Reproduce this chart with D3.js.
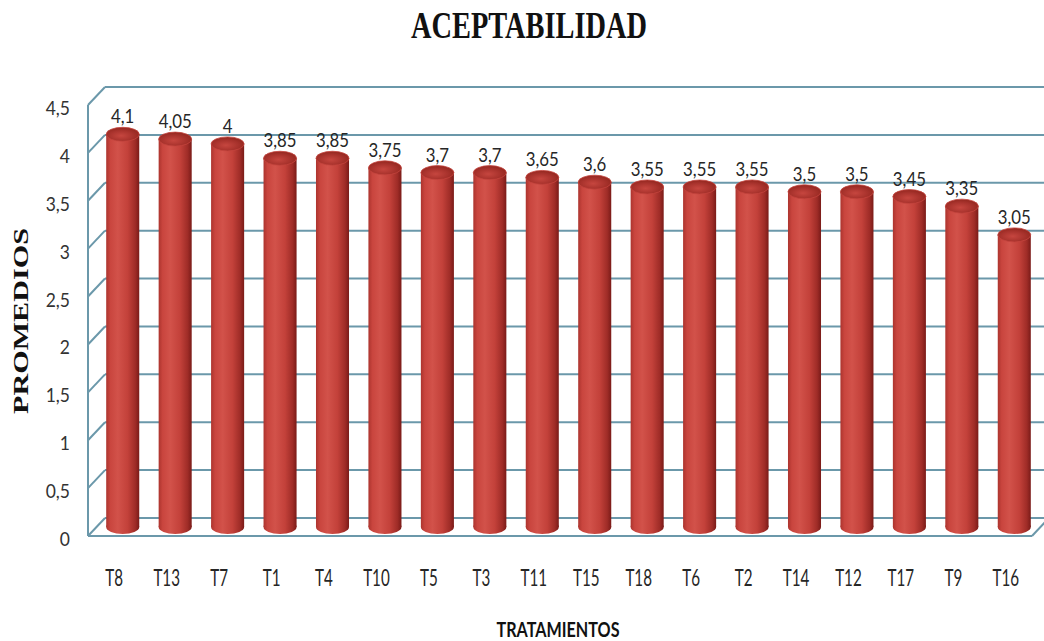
<!DOCTYPE html>
<html>
<head>
<meta charset="utf-8">
<script src="https://cdn.jsdelivr.net/npm/d3@7"></script>
<style>
  html, body { margin: 0; padding: 0; background: #ffffff; }
  svg { display: block; }
</style>
</head>
<body>
<svg id="chart" width="1044" height="641"></svg>
<script>
const categories = ["T8","T13","T7","T1","T4","T10","T5","T3","T11","T15","T18","T6","T2","T14","T12","T17","T9","T16"];
const values = [4.1,4.05,4,3.85,3.85,3.75,3.7,3.7,3.65,3.6,3.55,3.55,3.55,3.5,3.5,3.45,3.35,3.05];
const yTicks = [0,0.5,1,1.5,2,2.5,3,3.5,4,4.5];
const yTickLabels = ["0","0,5","1","1,5","2","2,5","3","3,5","4","4,5"];
const title = "ACEPTABILIDAD";
const yTitle = "PROMEDIOS";
const xTitle = "TRATAMIENTOS";

const fmt = v => String(v).replace(".", ",");

const svg = d3.select("#chart");
const left = 88, right = 1032, dx = 17, dy = -18;
const x = d3.scaleBand().domain(categories).range([left, right]).paddingInner(0.37).paddingOuter(0.185);
const y = d3.scaleLinear().domain([0, 4.5]).range([536, 105]);

function condense(sel, f) {
  sel.each(function () {
    const w = this.getComputedTextLength();
    d3.select(this).attr("textLength", w * f).attr("lengthAdjust", "spacingAndGlyphs");
  });
}

const defs = svg.append("defs");
const lg = defs.append("linearGradient").attr("id", "cyl").attr("x1", 0).attr("x2", 1).attr("y1", 0).attr("y2", 0);
[[0, "#ac342e"], [0.12, "#c9453e"], [0.35, "#d2524a"], [0.65, "#c3413a"], [0.88, "#9f2c27"], [1, "#7a1b18"]]
  .forEach(([o, c]) => lg.append("stop").attr("offset", o).attr("stop-color", c));
const rg = defs.append("radialGradient").attr("id", "cyltop").attr("cx", 0.45).attr("cy", 0.6).attr("r", 0.6);
[[0, "#c6463f"], [0.6, "#a9332d"], [1, "#93271f"]]
  .forEach(([o, c]) => rg.append("stop").attr("offset", o).attr("stop-color", c));

const gridColor = "#6b98aa";
const grid = svg.append("g").attr("stroke", gridColor).attr("stroke-width", 2).attr("fill", "none");
yTicks.forEach(t => {
  grid.append("line").attr("x1", left + dx).attr("x2", right + dx + 20).attr("y1", y(t) + dy).attr("y2", y(t) + dy);
  grid.append("line").attr("x1", left).attr("x2", left + dx).attr("y1", y(t)).attr("y2", y(t) + dy);
});
grid.append("line").attr("x1", left).attr("x2", left).attr("y1", y(0)).attr("y2", y(4.5));
grid.append("line").attr("x1", left).attr("x2", right).attr("y1", y(0)).attr("y2", y(0));
grid.append("line").attr("x1", right).attr("x2", right + dx).attr("y1", y(0)).attr("y2", y(0) + dy);

// cylinders
const rx = x.bandwidth() / 2, ry = 7;
const bars = svg.append("g");
categories.forEach((c, i) => {
  const cx = x(c) + rx + dx / 2;
  const baseY = y(0) + dy / 2;
  const topY = y(values[i]) + dy / 2;
  const g = bars.append("g");
  g.append("ellipse").attr("cx", cx).attr("cy", baseY).attr("rx", rx).attr("ry", ry).attr("fill", "url(#cyl)");
  g.append("rect").attr("x", cx - rx).attr("y", topY).attr("width", 2 * rx).attr("height", baseY - topY).attr("fill", "url(#cyl)");
  g.append("ellipse").attr("cx", cx).attr("cy", topY).attr("rx", rx).attr("ry", ry).attr("fill", "url(#cyltop)")
    .attr("stroke", "#c4443d").attr("stroke-width", 0.8);
});

// value labels
const vl = svg.append("g").attr("font-family", "Lato, 'Open Sans', sans-serif").attr("font-size", 20).attr("fill", "#262626").attr("text-anchor", "middle");
categories.forEach((c, i) => {
  vl.append("text").attr("x", x(c) + rx + dx / 2).attr("y", y(values[i]) + dy / 2 - 11).text(fmt(values[i]));
});
condense(vl.selectAll("text"), 0.84);

// y tick labels
const yl = svg.append("g").attr("font-family", "Lato, 'Open Sans', sans-serif").attr("font-size", 19).attr("fill", "#333").attr("text-anchor", "end");
yTicks.forEach((t, i) => {
  yl.append("text").attr("x", 70).attr("y", y(t) + 10).text(yTickLabels[i]);
});
condense(yl.selectAll("text"), 0.92);

// x labels
const xl = svg.append("g").attr("font-family", "Lato, 'Open Sans', sans-serif").attr("font-size", 23).attr("fill", "#262626").attr("text-anchor", "middle");
categories.forEach(c => {
  xl.append("text").attr("x", x(c) + rx).attr("y", 586).text(c);
});
condense(xl.selectAll("text"), 0.66);

// titles
svg.append("text").attr("x", 529).attr("y", 38).attr("text-anchor", "middle")
  .attr("font-family", "'Liberation Serif', 'Times New Roman', serif").attr("font-weight", "bold")
  .attr("font-size", 38).attr("fill", "#111").attr("textLength", 236).attr("lengthAdjust", "spacingAndGlyphs").text(title);

svg.append("text").attr("transform", "translate(28,321) rotate(-90)").attr("text-anchor", "middle")
  .attr("font-family", "'Liberation Serif', 'Times New Roman', serif").attr("font-weight", "bold")
  .attr("font-size", 21).attr("fill", "#111").attr("textLength", 186).attr("lengthAdjust", "spacingAndGlyphs").text(yTitle);

svg.append("text").attr("x", 558).attr("y", 637).attr("text-anchor", "middle")
  .attr("font-family", "Lato, 'Open Sans', sans-serif").attr("font-weight", "bold")
  .attr("font-size", 20).attr("fill", "#111").attr("textLength", 123).attr("lengthAdjust", "spacingAndGlyphs").text(xTitle);
</script>
</body>
</html>
